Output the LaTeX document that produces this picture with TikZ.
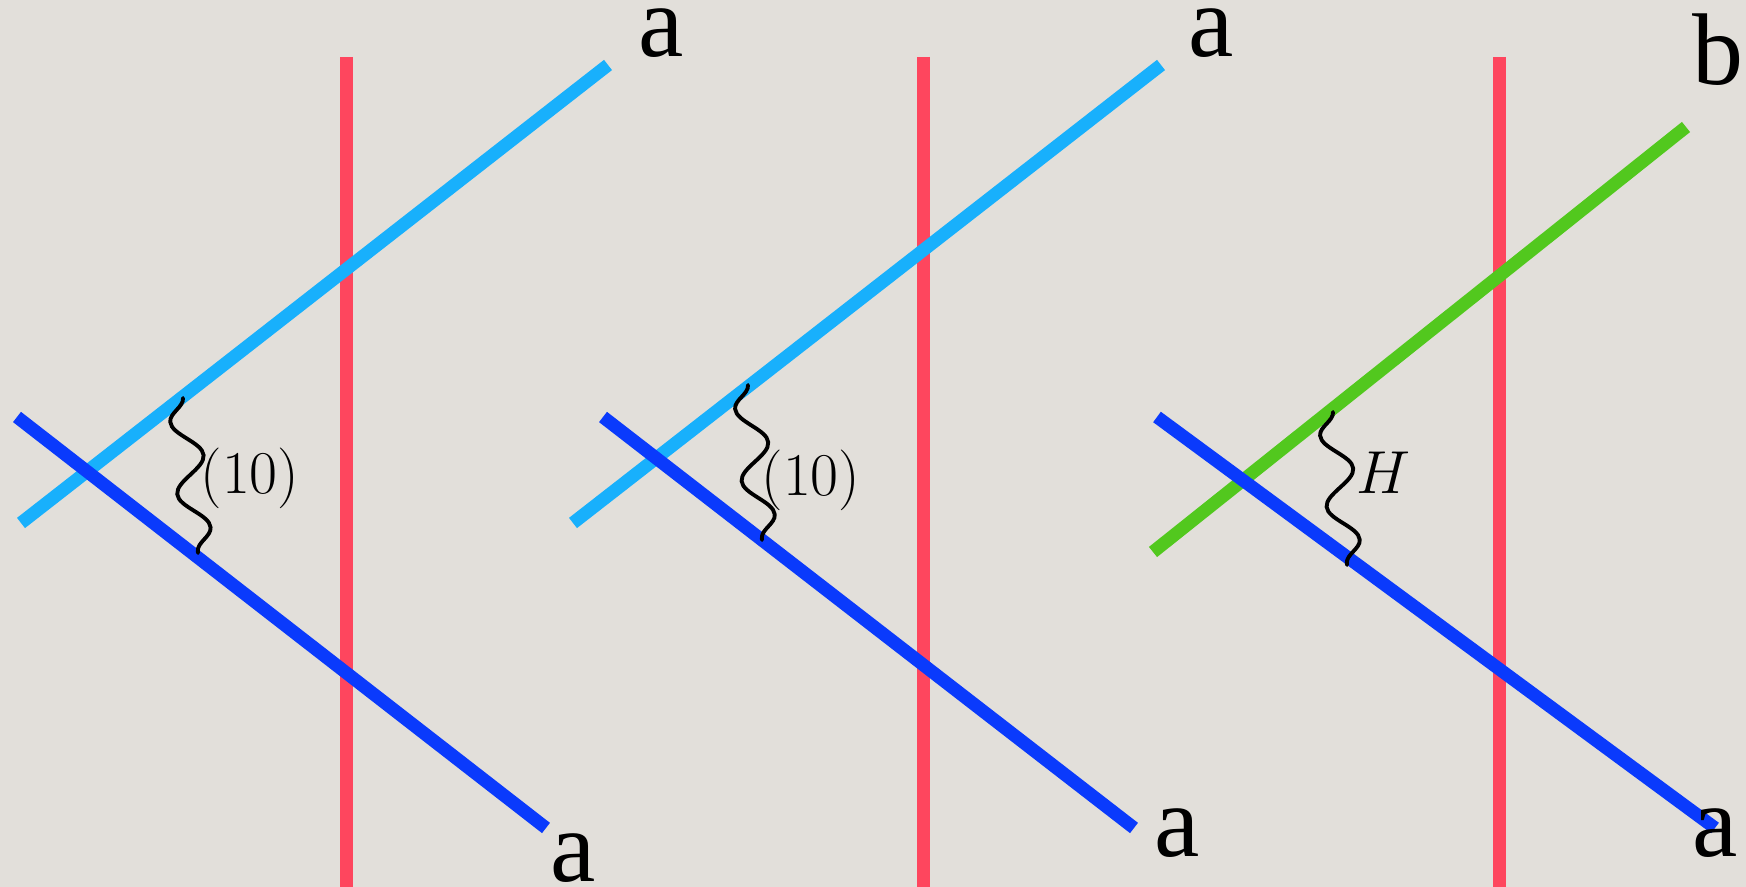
\documentclass[tikz,border=0pt]{standalone}
\usepackage{fontspec}
\newfontfamily\labfont{Liberation Serif}
\usetikzlibrary{decorations.pathmorphing}

\definecolor{paper}{RGB}{226,223,218}
\definecolor{redl}{RGB}{254,70,94}
\definecolor{skyl}{RGB}{24,176,252}
\definecolor{bluel}{RGB}{10,58,252}
\definecolor{greenl}{RGB}{82,200,30}

\tikzset{
  band/.style={line width=0.13cm},
  wiggle/.style={line width=1.1pt, line cap=round,
    decorate, decoration={snake, segment length=0.725cm, amplitude=0.15cm, mirror}},
  endlab/.style={anchor=base, inner sep=0pt, font=\labfont\fontsize{29}{29}\selectfont},
  wlab/.style={inner sep=0pt, font=\fontsize{16}{16}\selectfont}
}

\begin{document}
\begin{tikzpicture}
  \fill[paper] (0,0) rectangle (17.46,8.87);
  \useasboundingbox (0,0) rectangle (17.46,8.87);

  % left panel
  \draw[band, redl] (3.465,8.30) -- (3.465,0);
  \coordinate (s1a) at (0.21,3.64);
  \coordinate (s1b) at (6.08,8.22);
  \coordinate (b1a) at (0.17,4.70);
  \coordinate (b1b) at (5.46,0.59);
  \draw[band, skyl] (s1a) -- (s1b);
  \draw[band, bluel] (b1a) -- (b1b);
  \node[endlab] (t1) at (6.61,8.30) {a};
  \node[endlab] (u1) at (5.73,0.05) {a};
  \coordinate (w1t) at (1.83,4.89);
  \coordinate (w1b) at (1.98,3.34);
  \draw[wiggle] (w1t) -- (w1b);
  \node[wlab] (l1) at (2.50,4.09) {$(10)$};

  % middle panel
  \draw[band, redl] (9.23,8.30) -- (9.23,0);
  \coordinate (s2a) at (5.73,3.64);
  \coordinate (s2b) at (11.61,8.22);
  \coordinate (b2a) at (6.03,4.70);
  \coordinate (b2b) at (11.34,0.59);
  \draw[band, skyl] (s2a) -- (s2b);
  \draw[band, bluel] (b2a) -- (b2b);
  \node[endlab] (t2) at (12.11,8.30) {a};
  \node[endlab] (u2) at (11.77,0.30) {a};
  \coordinate (w2t) at (7.48,5.02);
  \coordinate (w2b) at (7.62,3.47);
  \draw[wiggle] (w2t) -- (w2b);
  \node[wlab] (l2) at (8.11,4.07) {$(10)$};

  % right panel
  \draw[band, redl] (14.99,8.30) -- (14.99,0);
  \coordinate (g3a) at (11.53,3.35);
  \coordinate (g3b) at (16.86,7.60);
  \coordinate (b3a) at (11.57,4.70);
  \coordinate (b3b) at (17.15,0.59);
  \draw[band, greenl] (g3a) -- (g3b);
  \draw[band, bluel] (b3a) -- (b3b);
  \node[endlab] (t3) at (17.18,8.02) {b};
  \node[endlab] (u3) at (17.15,0.30) {a};
  \coordinate (w3t) at (13.33,4.75);
  \coordinate (w3b) at (13.47,3.22);
  \draw[wiggle, decoration={segment length=0.715cm}] (w3t) -- (w3b);
  \node[wlab, font=\fontsize{19}{19}\selectfont] (l3) at (13.83,4.14) {$H$};
\end{tikzpicture}
\end{document}
